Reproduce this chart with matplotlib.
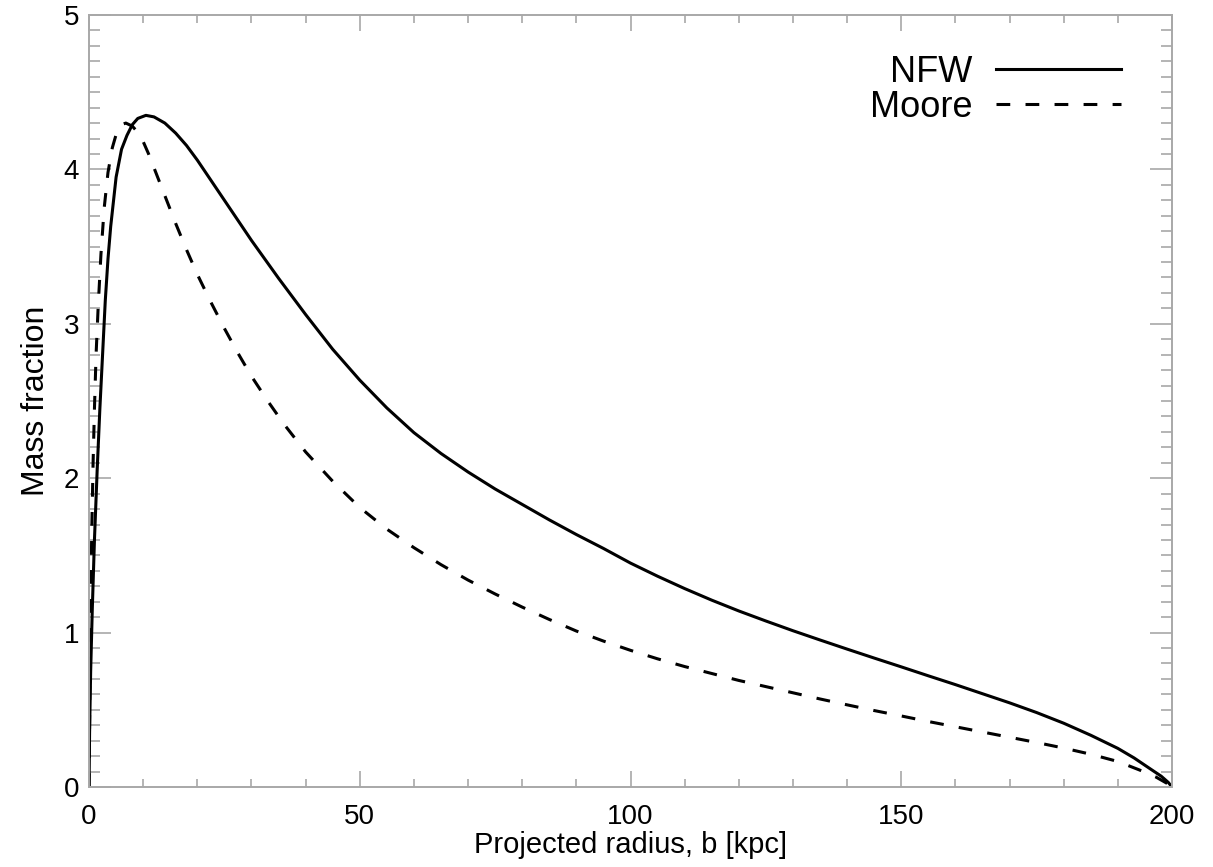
import numpy as np
import matplotlib.pyplot as plt
from matplotlib.ticker import MultipleLocator

plt.rcParams['font.family'] = ['Liberation Sans', 'DejaVu Sans']

# NFW profile
nfw_b = [0, 0.1, 0.3, 0.6, 1.0, 1.5, 2.0, 2.5, 3.0, 3.5, 4.0, 5.0, 6.0, 7.0, 8.0, 9.0,
         10.5, 12, 14, 16, 18, 20, 25, 30, 35, 40, 45, 50, 55, 60, 65, 70, 75, 80,
         85, 90, 95, 100, 105, 110, 115, 120, 125, 130, 135, 140, 145, 150, 155,
         160, 165, 170, 175, 180, 185, 190, 193, 196, 198, 199.3, 200]
nfw_m = [0, 0.35, 0.75, 1.15, 1.6, 2.05, 2.45, 2.8, 3.15, 3.42, 3.63, 3.95, 4.13, 4.22,
         4.29, 4.33, 4.35, 4.34, 4.30, 4.235, 4.155, 4.06, 3.80, 3.54, 3.295, 3.06,
         2.835, 2.635, 2.455, 2.295, 2.16, 2.04, 1.93, 1.83, 1.73, 1.635, 1.545, 1.45,
         1.365, 1.285, 1.21, 1.14, 1.075, 1.012, 0.952, 0.893, 0.835, 0.778, 0.72,
         0.663, 0.604, 0.545, 0.482, 0.413, 0.335, 0.25, 0.188, 0.117, 0.07, 0.03, 0]

# Moore profile
moore_b = [0, 0.05, 0.15, 0.3, 0.5, 0.75, 1.0, 1.3, 1.7, 2.2, 2.8, 3.5, 4.3, 5.2, 6.0,
           6.8, 8, 9, 10, 11, 12, 13, 14, 16, 18, 20, 22.5, 25, 27.5, 30, 33, 36, 40,
           45, 50, 55, 60, 65, 70, 75, 80, 85, 90, 95, 100, 105, 110, 115, 120, 125,
           130, 135, 140, 145, 150, 155, 160, 165, 170, 175, 180, 185, 190, 194, 197,
           199, 200]
moore_m = [0, 0.2, 0.65, 1.15, 1.65, 2.1, 2.45, 2.8, 3.12, 3.45, 3.75, 3.98, 4.14, 4.25,
           4.29, 4.30, 4.28, 4.24, 4.18, 4.10, 4.01, 3.92, 3.83, 3.65, 3.48, 3.32, 3.14,
           2.97, 2.81, 2.66, 2.50, 2.35, 2.17, 1.98, 1.81, 1.67, 1.55, 1.44, 1.34, 1.25,
           1.165, 1.085, 1.01, 0.945, 0.885, 0.83, 0.78, 0.735, 0.69, 0.65, 0.61, 0.57,
           0.532, 0.495, 0.46, 0.424, 0.39, 0.356, 0.322, 0.288, 0.252, 0.212, 0.165,
           0.11, 0.065, 0.025, 0]

fig = plt.figure(figsize=(12.13, 8.67), dpi=100)
ax = fig.add_axes([0.0734, 0.0923, 0.8928, 0.8904])

ax.plot(nfw_b, nfw_m, color='black', lw=2.2, label='NFW')
ax.plot(moore_b, moore_m, color='black', lw=2.2, ls=(0, (4.5, 5)), label='Moore')

ax.set_xlim(0, 200)
ax.set_ylim(0, 5)
ax.xaxis.set_major_locator(MultipleLocator(50))
ax.xaxis.set_minor_locator(MultipleLocator(10))
ax.yaxis.set_major_locator(MultipleLocator(1))
ax.yaxis.set_minor_locator(MultipleLocator(0.1))

grey = '#a8a8a8'
for s in ax.spines.values():
    s.set_color(grey)
    s.set_linewidth(1.4)
ax.tick_params(axis='both', which='both', direction='in', top=True, right=True,
               color=grey, width=1.2, labelsize=20)
ax.tick_params(axis='x', which='major', length=11.5, pad=12)
ax.tick_params(axis='x', which='minor', length=6)
ax.tick_params(axis='y', which='major', length=16, pad=7)
ax.tick_params(axis='y', which='minor', length=8)

ax.set_xlabel('Projected radius, b [kpc]', fontsize=21, labelpad=1)
ax.set_ylabel('Mass fraction', fontsize=23, labelpad=9)

ax.legend(loc='upper right', frameon=False, markerfirst=False, fontsize=26,
          handlelength=3.45, handletextpad=0.65, labelspacing=0.0,
          borderaxespad=0.0, bbox_to_anchor=(0.966, 0.967))

fig.savefig('out.png', dpi=100)
